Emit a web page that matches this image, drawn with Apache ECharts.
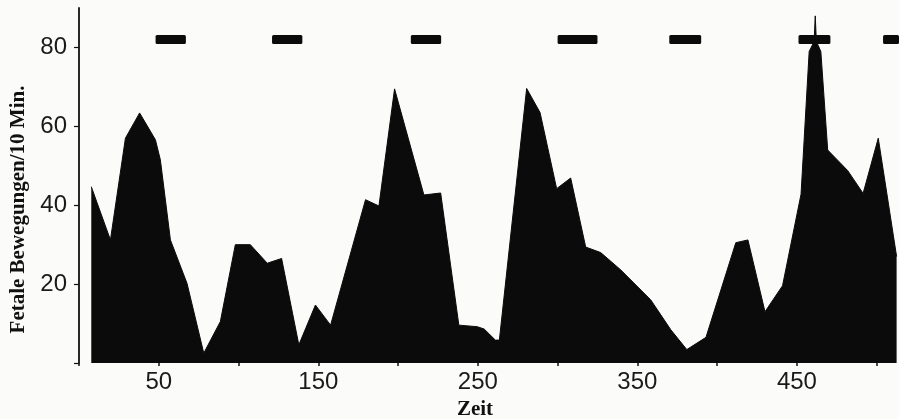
<!DOCTYPE html>
<html>
<head>
<meta charset="utf-8">
<script src="https://cdn.jsdelivr.net/npm/echarts@6/dist/echarts.min.js"></script>
<style>
html,body{margin:0;padding:0;background:#fbfbfa;}
#chart{width:899px;height:419px;}
</style>
</head>
<body>
<div id="chart"></div>
<script>
// Zeit (x) and Fetale Bewegungen/10 Min. (y)
var zeit = [7.7, 19.7, 29.1, 38.0, 47.9, 51, 57.3, 67.7, 78.2, 88.6, 98, 107.4, 118, 127, 137.8, 148.2, 157.7, 179.6, 188, 197.8, 216.2, 226.7, 238.1, 249.7, 254, 261, 263.5, 280.6, 289, 299.4, 308.2, 317.6, 327, 339.6, 358.4, 371, 381, 393, 411.7, 419.3, 430, 441, 452.6, 457.7, 460.8, 461.5, 462.2, 465, 469.3, 481.8, 491.5, 501, 512.5];
var bewegungen = [44.7, 31.2, 57.0, 63.4, 56.6, 51.5, 31.2, 20.2, 2.5, 10.5, 30, 30, 25.3, 26.5, 4.6, 14.7, 9.6, 41.4, 39.8, 69.5, 42.6, 43.1, 9.6, 9.2, 8.6, 5.8, 5.8, 69.6, 63.5, 44.2, 46.9, 29.4, 28, 23.6, 16, 8.4, 3.4, 6.5, 30.5, 31.2, 13, 19.6, 42.8, 79, 81.5, 88, 81.5, 79, 54, 48.8, 43, 57, 27];
// marked periods (horizontal bars at level 82)
var periodStart = [48, 121, 208, 300, 370, 451, 504];
var periodEnd = [67, 140, 227, 325, 390, 471, 514];
var periodLevel = 82;
var xTickLabels = [50, 150, 250, 350, 450];
var yTickLabels = [20, 40, 60, 80];

var areaData = zeit.map(function (x, i) { return [x, bewegungen[i]]; });
var periodData = periodStart.map(function (s, i) { return [s, periodEnd[i], periodLevel]; });

var chart = echarts.init(document.getElementById('chart'));
chart.setOption({
  backgroundColor: '#fbfbfa',
  animation: false,
  grid: { left: 79, right: 0, top: 8, bottom: 56, outerBoundsMode: 'none' },
  xAxis: {
    type: 'value', min: 0, max: 514, interval: 50,
    name: 'Zeit', nameLocation: 'middle', nameGap: 32,
    nameTextStyle: { fontFamily: 'Liberation Serif', fontWeight: 'bold', fontSize: 21, color: '#111', padding: [0, 28, 0, 0] },
    axisLine: { show: false },
    axisTick: { show: true, length: 3, lineStyle: { color: '#111', width: 1.5 } },
    splitLine: { show: false },
    axisLabel: {
      margin: 7, fontFamily: 'Liberation Sans', fontSize: 24, color: '#1a1a1a',
      showMaxLabel: false,
      formatter: function (v) { return xTickLabels.indexOf(v) >= 0 ? String(v) : ''; }
    }
  },
  yAxis: {
    type: 'value', min: 0, max: 90, interval: 20,
    name: 'Fetale Bewegungen/10 Min.', nameLocation: 'middle', nameGap: 50,
    nameTextStyle: { fontFamily: 'Liberation Serif', fontWeight: 'bold', fontSize: 21, color: '#111', padding: [0, 48, 0, 0] },
    axisLine: { show: true, lineStyle: { color: '#111', width: 1.8 } },
    axisTick: { show: true, length: 5, lineStyle: { color: '#111', width: 1.2 } },
    splitLine: { show: false },
    axisLabel: {
      margin: 12, fontFamily: 'Liberation Sans', fontSize: 24, color: '#1a1a1a',
      showMaxLabel: false,
      formatter: function (v) { return yTickLabels.indexOf(v) >= 0 ? String(v) : ''; }
    }
  },
  series: [
    {
      type: 'line', data: areaData, symbol: 'none', smooth: false,
      lineStyle: { color: '#0b0b0b', width: 1 },
      areaStyle: { color: '#0b0b0b', opacity: 1 },
      z: 2
    },
    {
      type: 'custom', data: periodData, z: 3,
      renderItem: function (params, api) {
        var p1 = api.coord([api.value(0), api.value(2)]);
        var p2 = api.coord([api.value(1), api.value(2)]);
        var h = 9;
        return {
          type: 'rect',
          shape: { x: p1[0], y: p1[1] - h / 2, width: p2[0] - p1[0], height: h, r: 1.5 },
          style: { fill: '#0b0b0b' }
        };
      }
    }
  ]
});
</script>
</body>
</html>
